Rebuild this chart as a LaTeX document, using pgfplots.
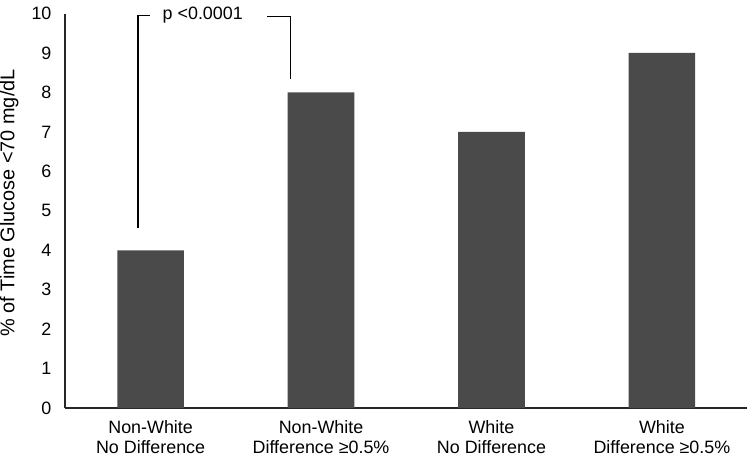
\documentclass[border=0pt]{standalone}
\usepackage{pgfplots}
\pgfplotsset{compat=1.18}
\usepackage{fontspec}
\setmainfont{Liberation Sans}
\definecolor{barc}{HTML}{4A4A4A}
\begin{document}
\begin{tikzpicture}
\begin{axis}[
  scale only axis,
  width=343pt, height=198.5pt,
  xmin=-0.5, xmax=3.5, ymin=0, ymax=10,
  axis x line=bottom, axis y line=left,
  axis line style={-, line width=0.9pt, black!85},
  ytick={0,1,...,10},
  xtick={0,1,2,3},
  xticklabels={{Non-White\\No Difference},{Non-White\\Difference ≥0.5\%},{White\\No Difference},{White\\Difference ≥0.5\%}},
  xticklabel style={align=center, font=\fontsize{9}{10.5}\selectfont, yshift=-2.5pt},
  yticklabel style={font=\fontsize{9}{11}\selectfont, xshift=-3.5pt},
  major tick length=0pt,
  /pgf/number format/assume math mode=true,
  ylabel={\% of Time Glucose <70 mg/dL},
  ylabel style={font=\fontsize{8}{10}\selectfont},
  every axis y label/.style={at={(ticklabel cs:0.52)}, rotate=90, anchor=south, inner sep=0pt, yshift=3pt},
  clip=false,
]
\addplot[ybar, bar width=33.5pt, fill=barc, draw=none] coordinates {(0,4) (1,8) (2,7) (3,9)};
\draw[line width=0.7pt, black] (axis cs:-0.074,4.56) -- (axis cs:-0.074,9.95) -- (axis cs:-0.004,9.95);
\draw[line width=0.7pt, black] (axis cs:0.685,9.93) -- (axis cs:0.82,9.93) -- (axis cs:0.82,8.34);
\node[font=\fontsize{9}{11}\selectfont] at (axis cs:0.306,9.97) {p <0.0001};
\end{axis}
\end{tikzpicture}
\end{document}
